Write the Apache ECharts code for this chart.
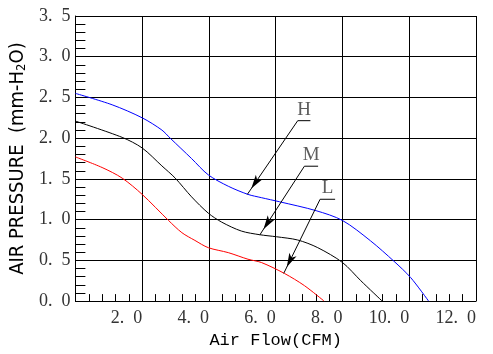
<!DOCTYPE html>
<html lang="en">
<head>
    <meta charset="UTF-8">
    <title>Air Flow - Air Pressure</title>
    <script src="https://cdn.jsdelivr.net/npm/echarts@6/dist/echarts.min.js"></script>
    <style>
        body {
            padding: 0;
            margin: 0;
            border: none;
            background: #fff;
        }
    </style>
</head>
<body>
<div style="width: 493px;height: 354px;" id="ec"></div>
<script>
    // H curve (blue)
    let hFlow = [0, 1.1, 2.0, 2.59, 2.84, 3.48, 3.98, 4.58, 5.17, 5.57, 6.11, 7.21, 8.0, 8.84, 9.54, 10.04, 10.58];
    let hPres = [2.55, 2.41, 2.25, 2.10, 2.0, 1.75, 1.55, 1.41, 1.31, 1.27, 1.22, 1.11, 0.99, 0.74, 0.49, 0.29, 0.0];
    // M curve (black)
    let mFlow = [0, 1.4, 2.0, 2.59, 2.99, 3.48, 3.98, 4.38, 4.97, 5.52, 6.02, 6.66, 7.26, 8.0, 8.55, 9.19];
    let mPres = [2.21, 2.01, 1.88, 1.66, 1.51, 1.28, 1.08, 0.97, 0.86, 0.815, 0.79, 0.75, 0.656, 0.474, 0.25, 0.0];
    // L curve (red)
    let lFlow = [0, 0.8, 1.4, 2.0, 2.79, 3.19, 3.58, 3.98, 4.58, 5.17, 5.57, 6.26, 6.86, 7.45];
    let lPres = [1.77, 1.64, 1.51, 1.31, 0.99, 0.84, 0.745, 0.656, 0.595, 0.514, 0.474, 0.34, 0.19, 0.0];

    // leader labels H / M / L
    let annoText = ['H', 'M', 'L'];
    let annoLeft = [6.66, 6.86, 7.33];
    let annoRight = [7.04, 7.27, 7.78];
    let annoY = [2.215, 1.656, 1.25];
    let tipX = [5.15, 5.52, 6.24];
    let tipY = [1.31, 0.81, 0.34];

    function zip(xs, ys) {
        return xs.map((x, i) => [x, ys[i]]);
    }
    function tickText(v) {
        return v.toFixed(1).replace('.', '.\u2002');
    }

    let ec = echarts.init(document.getElementById('ec'));
    let serifFont = "'Liberation Serif', 'DejaVu Serif', serif";

    let series = [
        {type: 'line', data: zip(hFlow, hPres), color: '#0000ff'},
        {type: 'line', data: zip(mFlow, mPres), color: '#000000'},
        {type: 'line', data: zip(lFlow, lPres), color: '#ff0000'}
    ].map(s => ({
        type: 'line',
        data: s.data,
        smooth: 0.3,
        symbol: 'none',
        silent: true,
        lineStyle: {color: s.color, width: 1}
    }));

    annoText.forEach((t, i) => {
        series.push({
            type: 'line',
            data: [[annoLeft[i], annoY[i]], [annoRight[i], annoY[i]]],
            symbol: 'none',
            silent: true,
            lineStyle: {color: '#000', width: 1},
            markLine: {
                silent: true,
                symbol: ['none', 'arrow'],
                symbolSize: [6, 14],
                symbolOffset: [[0, 0], [0, 7]],
                label: {show: false},
                itemStyle: {color: '#000'},
                lineStyle: {color: '#000', width: 1, type: 'solid'},
                data: [[{coord: [annoLeft[i], annoY[i]]}, {coord: [tipX[i], tipY[i]]}]]
            }
        });
    });

    series.push({
        type: 'scatter',
        silent: true,
        symbolSize: 1,
        itemStyle: {color: 'rgba(0,0,0,0)'},
        data: annoText.map((t, i) => [(annoLeft[i] + annoRight[i]) / 2, annoY[i], t]),
        label: {
            show: true,
            position: 'top',
            distance: 1,
            formatter: p => p.value[2],
            fontFamily: serifFont,
            fontSize: 19,
            color: '#333'
        }
    });

    let option = {
        animation: false,
        grid: {left: 73, right: 17, top: 16, bottom: 50},
        xAxis: {
            type: 'value',
            min: 0,
            max: 12,
            interval: 2,
            name: 'Air Flow(CFM)',
            nameLocation: 'middle',
            nameGap: 30,
            nameTextStyle: {fontFamily: "'Liberation Mono', 'DejaVu Sans Mono', monospace", fontSize: 17, color: '#000'},
            axisLine: {show: true, lineStyle: {color: '#000', width: 1}},
            axisTick: {show: true, inside: true, length: 7, lineStyle: {color: '#000'}},
            minorTick: {show: true, splitNumber: 5, length: 7, lineStyle: {color: '#000', width: 1}},
            splitLine: {show: true, lineStyle: {color: '#000', width: 1}},
            axisLabel: {
                showMinLabel: false,
                formatter: tickText,
                align: 'right',
                margin: 8,
                fontFamily: serifFont,
                fontSize: 18,
                color: '#333'
            }
        },
        yAxis: {
            type: 'value',
            min: 0,
            max: 3.5,
            interval: 0.5,
            name: 'AIR PRESSURE  (mm-H{s|2}O)',
            nameLocation: 'middle',
            nameGap: 47,
            nameRotate: 90,
            nameTextStyle: {
                fontFamily: "'Liberation Sans Narrow', 'DejaVu Sans Condensed', sans-serif",
                fontSize: 20,
                color: '#000',
                rich: {
                    s: {fontFamily: "'Liberation Sans Narrow', 'DejaVu Sans Condensed', sans-serif", fontSize: 13, color: '#000', verticalAlign: 'bottom'}
                }
            },
            axisLine: {show: true, lineStyle: {color: '#000', width: 1}},
            axisTick: {show: true, inside: true, length: 10, lineStyle: {color: '#000'}},
            minorTick: {show: true, splitNumber: 5, length: 10, lineStyle: {color: '#000', width: 1}},
            splitLine: {show: true, lineStyle: {color: '#000', width: 1}},
            axisLabel: {
                formatter: tickText,
                margin: 5,
                fontFamily: serifFont,
                fontSize: 18,
                color: '#333'
            }
        },
        series: series
    };
    ec.setOption(option);
</script>
</body>
</html>
